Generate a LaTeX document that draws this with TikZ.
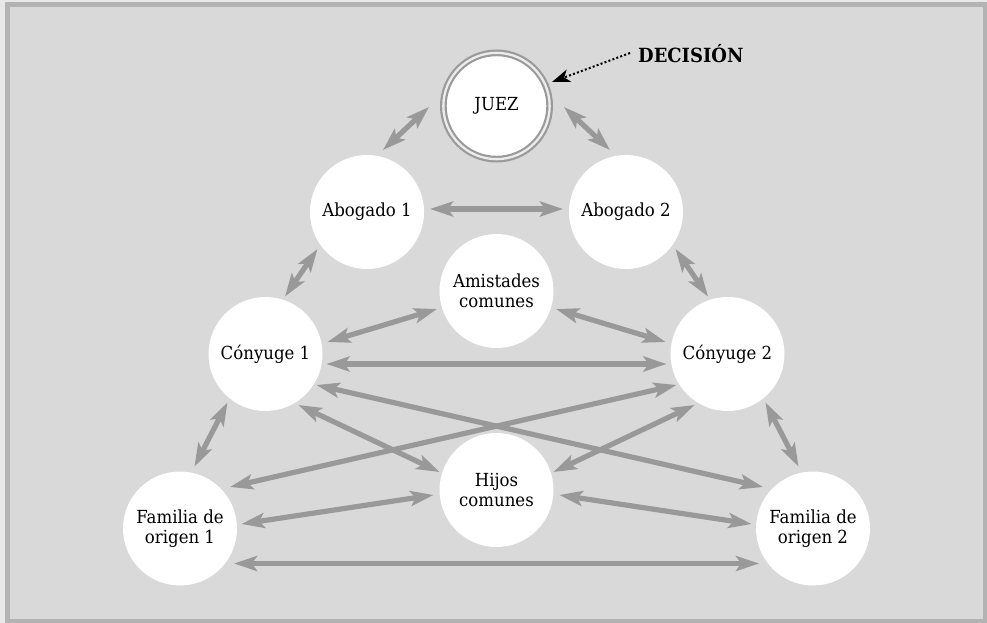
\documentclass[tikz,border=0pt]{standalone}
\usepackage{fontspec}
\setmainfont[FakeStretch=0.92]{DejaVu Serif}
\usetikzlibrary{arrows.meta,calc}
\definecolor{pagebg}{HTML}{E8E8E8}
\definecolor{framegray}{HTML}{B3B3B3}
\definecolor{panelgray}{HTML}{D9D9D9}
\definecolor{arrowgray}{HTML}{999999}
\definecolor{ringgray}{HTML}{9A9A9A}
\begin{document}
\begin{tikzpicture}[x=1pt,y=1pt,
  person/.style={circle, fill=white, minimum size=114pt, inner sep=0pt,
    align=center, font=\fontsize{18}{20.5}\selectfont},
  judge/.style={person, minimum size=106.3pt, draw=ringgray, line width=2.2pt,
    double=gray!15, double distance=2.3pt},
  link/.style={draw=arrowgray, line width=5.2pt,
    {Stealth[length=23pt,width=15pt,inset=5pt]}-{Stealth[length=23pt,width=15pt,inset=5pt]}},
  pointer/.style={draw=black, line width=2pt, dash pattern=on 2pt off 2.2pt,
    -{Stealth[length=18pt,width=13pt,inset=5pt]}}]
% page, frame and panel
\useasboundingbox (0,0) rectangle (987,-623);
\fill[pagebg] (0,0) rectangle (987,-623);
\fill[framegray] (5,-2) rectangle (987,-623);
\fill[panelgray] (10,-7) rectangle (983,-619);

% people
\node[judge]  (juez) at (496.5,-106) {JUEZ};
\node[person] (ab1)  at (367,-212)   {Abogado 1};
\node[person] (ab2)  at (626,-212)   {Abogado 2};
\node[person] (am)   at (496.5,-291) {Amistades\\comunes};
\node[person] (c1)   at (265.5,-354) {Cónyuge 1};
\node[person] (c2)   at (727.5,-354) {Cónyuge 2};
\node[person] (hi)   at (496.5,-490) {Hijos\\comunes};
\node[person] (f1)   at (180,-528.5) {Familia de\\origen 1};
\node[person] (f2)   at (813,-528.5) {Familia de\\origen 2};

% decision label
\node[anchor=west, inner sep=0pt, font=\fontsize{19.5}{24}\selectfont\bfseries]
  (dec) at (638,-53.5) {DECISIÓN};
\draw[pointer] ($(dec.west)+(-8,0.5)$) -- ($(juez.center)+(55.5,24)$);

% relations
\draw[link] ($(juez.center)+(-67.5,-1)$) -- ($(ab1.center)+(16,62)$);
\draw[link] ($(juez.center)+(67.5,-1)$) -- ($(ab2.center)+(-16,62)$);
\draw[link] ($(ab1.center)+(63,3)$) -- ($(ab2.center)+(-63,3)$);
\draw[link] ($(ab1.center)+(-49.5,-37)$) -- ($(c1.center)+(19.5,57.5)$);
\draw[link] ($(ab2.center)+(49.5,-37)$) -- ($(c2.center)+(-19.5,57.5)$);
\draw[link] ($(am.center)+(-59.5,-18)$) -- ($(c1.center)+(62,12)$);
\draw[link] ($(am.center)+(59.5,-18)$) -- ($(c2.center)+(-62,12)$);
\draw[link] ($(c1.center)+(61,-10)$) -- ($(c2.center)+(-61,-10)$);
\draw[link] ($(c1.center)+(51,-31)$) -- ($(f2.center)+(-50,41.5)$);
\draw[link] ($(c2.center)+(-51,-31)$) -- ($(f1.center)+(50,41.5)$);
\draw[link] ($(c1.center)+(33,-51)$) -- ($(hi.center)+(-57,18)$);
\draw[link] ($(c2.center)+(-33,-51)$) -- ($(hi.center)+(57,18)$);
\draw[link] ($(c1.center)+(-38,-48.5)$) -- ($(f1.center)+(14.5,62)$);
\draw[link] ($(c2.center)+(38,-48.5)$) -- ($(f2.center)+(-14.5,62)$);
\draw[link] ($(hi.center)+(-63,-5)$) -- ($(f1.center)+(61.5,4.5)$);
\draw[link] ($(hi.center)+(63,-5)$) -- ($(f2.center)+(-61.5,4.5)$);
\draw[link] ($(f1.center)+(54,-35)$) -- ($(f2.center)+(-54,-35)$);
\end{tikzpicture}
\end{document}
